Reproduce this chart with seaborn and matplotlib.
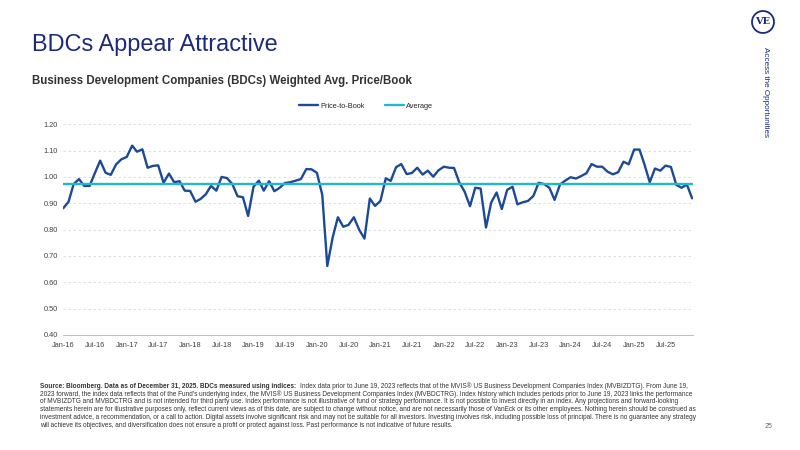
import numpy as np
import pandas as pd
import matplotlib.pyplot as plt
import matplotlib.dates as mdates
from matplotlib.patches import Ellipse
import seaborn as sns

# monthly weighted avg price/book, Jan-16 .. Dec-25
months = pd.date_range("2016-01-01", "2025-12-01", freq="MS")
price_to_book = [
    0.881, 0.906, 0.973, 0.992, 0.966, 0.966, 1.014, 1.062, 1.016, 1.008, 1.048, 1.067,  # 2016
    1.076, 1.119, 1.096, 1.105, 1.035, 1.042, 1.044, 0.978, 1.013, 0.980, 0.984, 0.948,  # 2017
    0.947, 0.906, 0.916, 0.934, 0.966, 0.948, 1.000, 0.996, 0.973, 0.927, 0.923, 0.852,  # 2018
    0.963, 0.986, 0.948, 0.984, 0.946, 0.959, 0.977, 0.980, 0.986, 0.992, 1.030, 1.029,  # 2019
    1.016, 0.932, 0.662, 0.771, 0.847, 0.811, 0.818, 0.847, 0.799, 0.766, 0.918, 0.890,  # 2020
    0.909, 0.995, 0.985, 1.037, 1.049, 1.011, 1.015, 1.035, 1.009, 1.024, 1.001, 1.025,  # 2021
    1.039, 1.035, 1.034, 0.978, 0.944, 0.889, 0.959, 0.956, 0.808, 0.903, 0.941, 0.878,  # 2022
    0.951, 0.963, 0.896, 0.904, 0.909, 0.928, 0.978, 0.973, 0.959, 0.913, 0.971, 0.986,  # 2023
    0.999, 0.994, 1.003, 1.014, 1.049, 1.039, 1.039, 1.020, 1.010, 1.018, 1.058, 1.048,  # 2024
    1.104, 1.104, 1.049, 0.980, 1.032, 1.024, 1.043, 1.038, 0.970, 0.959, 0.971, 0.919,  # 2025
]
average = 0.972
y_ticks = [0.40, 0.50, 0.60, 0.70, 0.80, 0.90, 1.00, 1.10, 1.20]

df = pd.DataFrame({"month": months, "pb": price_to_book})

sns.set_style("white")
plt.rcParams["font.family"] = ["Liberation Sans", "DejaVu Sans"]

navy = "#1B2A7B"
blue = "#1C4A96"
cyan = "#22B8CA"

fig = plt.figure(figsize=(8, 4.5), dpi=100)
ax = fig.add_axes([0.079, 0.2556, 0.787, 0.4682])

sns.lineplot(data=df, x="month", y="pb", ax=ax, color=blue, linewidth=1.7,
             label="Price-to-Book", legend=False)
ax.axhline(average, color=cyan, linewidth=1.7, label="Average")

ax.set_xlim(months[0], months[-1] + pd.Timedelta(days=4))
ax.set_ylim(0.40, 1.20)
ax.set_yticks(y_ticks)
ax.set_yticklabels([f"{v:.2f}" for v in y_ticks])
ax.xaxis.set_major_locator(mdates.MonthLocator(bymonth=[1, 7]))
ax.xaxis.set_major_formatter(mdates.DateFormatter("%b-%y"))
ax.set_xlabel("")
ax.set_ylabel("")

ax.yaxis.grid(True, linestyle=(0, (3, 3)), color="#d9d9d9", linewidth=0.6)
ax.xaxis.grid(False)
for s in ["left", "top", "right"]:
    ax.spines[s].set_visible(False)
ax.spines["bottom"].set_color("#bfbfbf")
ax.spines["bottom"].set_linewidth(0.7)
ax.tick_params(axis="x", length=3, width=0.6, color="#bfbfbf", labelsize=5.3,
               labelcolor="#404040", pad=2)
ax.tick_params(axis="y", length=0, labelsize=5.3, labelcolor="#404040", pad=4)

fig.legend(handles=ax.get_lines()[:1] + [ax.get_lines()[-1]],
           labels=["Price-to-Book", "Average"], loc="center",
           bbox_to_anchor=(366 / 800, 1 - 106 / 450), ncol=2, frameon=False,
           fontsize=5.3, handlelength=2.6, columnspacing=2.8, handletextpad=0.2)

# titles
fig.text(32 / 800, 1 - 51 / 450, "BDCs Appear Attractive", fontsize=16.9,
         color=navy, va="baseline")
fig.text(32 / 800, 1 - 84 / 450,
         "Business Development Companies (BDCs) Weighted Avg. Price/Book",
         fontsize=8.3, fontweight="bold", color="#333333", va="baseline")

# logo + side tagline
fig.add_artist(Ellipse((763 / 800, 1 - 22 / 450), 22 / 800, 22 / 450,
                       fill=False, edgecolor=navy, linewidth=1.3,
                       transform=fig.transFigure))
fig.text(763 / 800, 1 - 22 / 450, "VE", family="DejaVu Serif", fontweight="bold",
         fontsize=7, color=navy, ha="center", va="center")
fig.text(766 / 800, 1 - 47 / 450, "Access the Opportunities", rotation=-90,
         fontsize=5.9, color=navy, ha="center", va="top")

# footer
foot_lines = [
    "2023 forward, the index data reflects that of the Fund's underlying index, the MVIS\u00ae US Business Development Companies Index (MVBDCTRG). Index history which includes periods prior to June 19, 2023 links the performance",
    "of MVBIZDTG and MVBDCTRG and is not intended for third party use. Index performance is not illustrative of fund or strategy performance. It is not possible to invest directly in an index. Any projections and forward-looking",
    "statements herein are for illustrative purposes only, reflect current views as of this date, are subject to change without notice, and are not necessarily those of VanEck or its other employees. Nothing herein should be construed as",
    "investment advice, a recommendation, or a call to action. Digital assets involve significant risk and may not be suitable for all investors. Investing involves risk, including possible loss of principal. There is no guarantee any strategy",
    "will achieve its objectives, and diversification does not ensure a profit or protect against loss. Past performance is not indicative of future results.",
]
fs = 4.73
y0 = 386
bold = fig.text(40 / 800, 1 - y0 / 450,
                "Source: Bloomberg. Data as of December 31, 2025. BDCs measured using indices:",
                fontsize=fs, fontweight="bold", color="#333333", va="center")
fig.canvas.draw()
bb = bold.get_window_extent()
fig.text((bb.x1 + 4) / 800, 1 - y0 / 450,
         "Index data prior to June 19, 2023 reflects that of the MVIS\u00ae US Business Development Companies Index (MVBIZDTG). From June 19,",
         fontsize=fs, color="#333333", va="center")
for i, line in enumerate(foot_lines):
    fig.text(40 / 800, 1 - (y0 + 7.9 * (i + 1)) / 450, line, fontsize=fs,
             color="#333333", va="center")

fig.text(765 / 800, 1 - 427 / 450, "25", fontsize=5, color="#666666", va="center")

fig.savefig("out.png", dpi=100)
